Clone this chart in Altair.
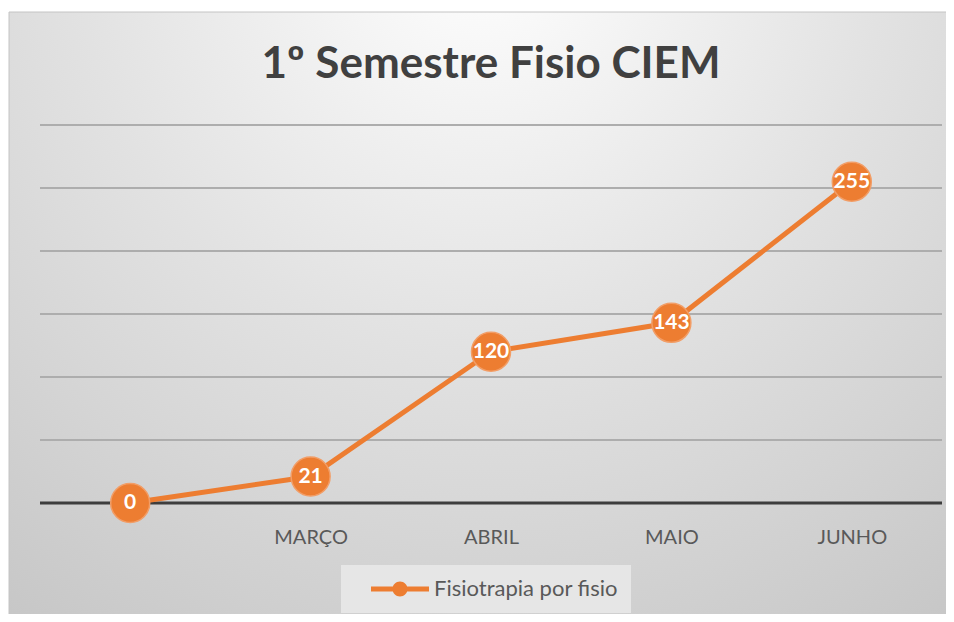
import altair as alt
import pandas as pd

meses = ["", "MARÇO", "ABRIL", "MAIO", "JUNHO"]
valores = [0, 21, 120, 143, 255]
serie = "Fisiotrapia por fisio"
grade = [50, 100, 150, 200, 250, 300]
titulo = "1º Semestre Fisio CIEM"

df = pd.DataFrame({"mes": meses, "valor": valores, "serie": [serie] * len(meses)})
grid_df = pd.DataFrame({"v": grade})
zero_df = pd.DataFrame({"v": [0]})

ORANGE = "#ED7D31"
ydom = alt.Scale(domain=[0, 300], nice=False, zero=True)
xscale = alt.Scale(type="point", padding=0.5, domain=meses)

bg = alt.Chart(alt.Data(values=[{}])).mark_rect(
    fill={
        "gradient": "radial",
        "stops": [
            {"offset": 0, "color": "#ffffff"},
            {"offset": 0.45, "color": "#e2e2e2"},
            {"offset": 1, "color": "#c2c2c2"},
        ],
        "x1": 0.5, "y1": 0.1, "x2": 0.5, "y2": 0.1, "r1": 0, "r2": 0.95,
    },
    stroke="#c4c4c4",
    strokeWidth=1,
).encode(
    x=alt.value(-31), x2=alt.value(914), y=alt.value(-113), y2=alt.value(500)
)

grid = alt.Chart(grid_df).mark_rule(color="#adadad", strokeWidth=2).encode(
    y=alt.Y("v:Q", scale=ydom, axis=None)
)
zero = alt.Chart(zero_df).mark_rule(color="#3d3d3d", strokeWidth=3).encode(
    y=alt.Y("v:Q", scale=ydom, axis=None)
)

base = alt.Chart(df).encode(
    x=alt.X(
        "mes:N",
        scale=xscale,
        sort=meses,
        axis=alt.Axis(
            title=None, domain=False, ticks=False, tickSize=0, grid=False,
            labelFont="Lato", labelFontSize=20, labelColor="#595959",
            labelPadding=24, labelAngle=0, zindex=1,
        ),
    ),
    y=alt.Y("valor:Q", scale=ydom, axis=None),
)

# legend symbol: line with a dot, drawn at scale 10 (symbolSize 400)
SYM = ("M0.6,-0.25 L6.4,-0.25 L6.4,0.25 L0.6,0.25 Z "
       "M4.25,0 A0.75,0.75 0 1,1 2.75,0 A0.75,0.75 0 1,1 4.25,0 Z")

line = base.mark_line(color=ORANGE, strokeWidth=5)
pts = base.mark_circle(size=1520, opacity=1, stroke="#f29d66", strokeWidth=1.5).encode(
    color=alt.Color(
        "serie:N",
        scale=alt.Scale(range=[ORANGE]),
        legend=alt.Legend(
            title=None, orient="none", legendX=301, legendY=440,
            fillColor="#e6e6e6", padding=13,
            symbolType=SYM,
            symbolSize=400, symbolStrokeWidth=0, symbolOpacity=1,
            labelFont="Lato", labelFontSize=22, labelColor="#595959",
            labelOffset=58, labelLimit=400, zindex=1,
        ),
    )
)
labels = base.mark_text(
    color="white", font="Lato", fontWeight="bold", fontSize=21,
    align="center", baseline="middle",
).encode(text="valor:Q")

chart = alt.layer(bg, grid, zero, line, pts, labels).properties(
    width=902,
    height=378,
    autosize=alt.AutoSizeParams(type="none"),
    padding={"left": 32, "top": 117, "right": 4, "bottom": 111},
    background="white",
    title=alt.TitleParams(
        titulo, font="Lato", fontWeight="bold", fontSize=44, color="#404040",
        anchor="middle", frame="group", offset=-75,
    ),
).configure_view(stroke=None)

chart.save("out.html", embed_options={"renderer": "svg", "actions": False})
